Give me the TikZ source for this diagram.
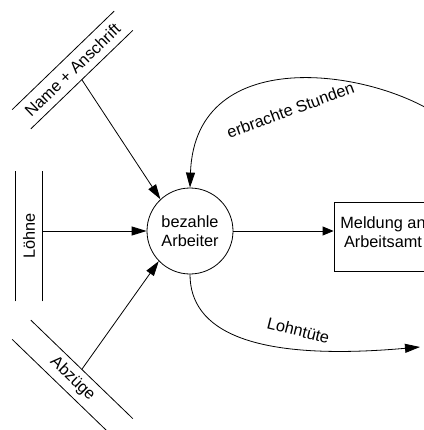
\documentclass[tikz,border=0pt]{standalone}
\usepackage{fontspec}
\setmainfont{Liberation Sans}
\usetikzlibrary{arrows.meta}
\begin{document}
\begin{tikzpicture}[x=1pt, y=-1pt,
  font=\fontsize{16.3}{19.5}\selectfont,
  every path/.style={line width=0.8pt},
  flow/.style={-{Triangle[length=15pt,width=9pt]}},
  shortflow/.style={-{Triangle[length=11pt,width=9pt]}},
  store/.style={minimum width=#1, minimum height=26pt, inner sep=0pt},
  process/.style={circle, draw, minimum size=86pt, inner sep=0pt, align=center},
  entity/.style={draw, minimum width=98pt, minimum height=69pt, inner sep=0pt},
  label/.style={inner sep=0pt, anchor=base}]
\useasboundingbox (0,0) rectangle (423,430);

% central process
\node[process] (proc) at (190,231) {bezahle\\Arbeiter};

% data stores (two parallel lines each)
\node[store=141pt, rotate=44] (name) at (72.5,70) {Name + Anschrift};
\draw (name.north west) -- (name.north east)
      (name.south west) -- (name.south east);

\node[store=130pt, rotate=90] (loehne) at (29,236) {Löhne};
\draw (loehne.north west) -- (loehne.north east)
      (loehne.south west) -- (loehne.south east);

\node[store=141pt, rotate=-44] (abz) at (72.5,379) {Abzüge};
\draw (abz.north west) -- (abz.north east)
      (abz.south west) -- (abz.south east);

% external entity
\node[entity] (meld) at (383,236.5) {};
\node[align=center, inner sep=0pt] at ([yshift=4.5pt]meld.center) {Meldung an\\Arbeitsamt};

% free ends of the curved flows
\coordinate (stundenSrc) at (445,120);
\coordinate (lohnDst) at (420,347);

% flows
\draw[flow] (name.south) -- (proc.133);
\draw[flow] (proc.west -| loehne.south) -- (proc.west);
\draw[flow] (abz.north) -- (proc.224);
\draw[shortflow] (proc.east) -- (proc.east -| meld.west);
\draw[flow] (stundenSrc) .. controls (380,70) and (195,40) .. (proc.north);
\draw[flow] (proc.south) .. controls (190,330) and (250,362) .. (lohnDst);

% flow labels
\node[label, rotate=20] at (292.5,115.5) {erbrachte Stunden};
\node[label, rotate=-14] at (297,336) {Lohntüte};
\end{tikzpicture}
\end{document}
